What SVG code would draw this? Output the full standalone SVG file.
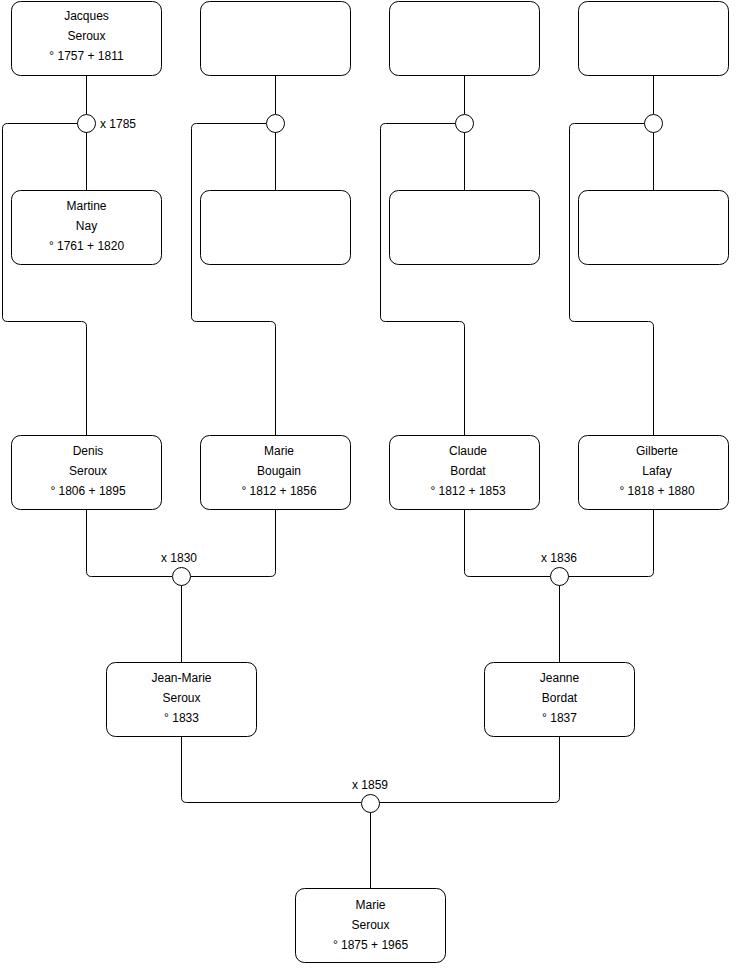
<svg xmlns="http://www.w3.org/2000/svg" width="740" height="975" viewBox="0 0 740 975">
<style>
.box{fill:#fff;stroke:#000;stroke-width:1}
.c{fill:#fff;stroke:#000;stroke-width:1}
.ln{fill:none;stroke:#000;stroke-width:1}
text{font-family:"Liberation Sans",Arial,sans-serif;font-size:12px;fill:#000}
.m{text-anchor:middle}
</style>
<rect width="740" height="975" fill="#fff"/>
<g id="connectors">
<path class="ln" d="M86.5 75V114M86.5 132V190"/>
<path class="ln" d="M275.5 75V114M275.5 132V190"/>
<path class="ln" d="M464.5 75V114M464.5 132V190"/>
<path class="ln" d="M653.5 75V114M653.5 132V190"/>
<path class="ln" d="M77.5 123.5H7.5Q2.5 123.5 2.5 128.5V316.5Q2.5 321.5 7.5 321.5H81.5Q86.5 321.5 86.5 326.5V435"/>
<path class="ln" d="M266.5 123.5H196.5Q191.5 123.5 191.5 128.5V316.5Q191.5 321.5 196.5 321.5H270.5Q275.5 321.5 275.5 326.5V435"/>
<path class="ln" d="M455.5 123.5H385.5Q380.5 123.5 380.5 128.5V316.5Q380.5 321.5 385.5 321.5H459.5Q464.5 321.5 464.5 326.5V435"/>
<path class="ln" d="M644.5 123.5H574.5Q569.5 123.5 569.5 128.5V316.5Q569.5 321.5 574.5 321.5H648.5Q653.5 321.5 653.5 326.5V435"/>
<path class="ln" d="M86.5 510V571.5Q86.5 576.5 91.5 576.5H172"/>
<path class="ln" d="M275.5 510V571.5Q275.5 576.5 270.5 576.5H190"/>
<path class="ln" d="M181.5 585V662"/>
<path class="ln" d="M464.5 510V571.5Q464.5 576.5 469.5 576.5H550"/>
<path class="ln" d="M653.5 510V571.5Q653.5 576.5 648.5 576.5H568"/>
<path class="ln" d="M559.5 585V662"/>
<path class="ln" d="M181.5 737V797.5Q181.5 802.5 186.5 802.5H361"/>
<path class="ln" d="M559.5 737V797.5Q559.5 802.5 554.5 802.5H379"/>
<path class="ln" d="M370.5 812V888"/>
</g>
<g id="union1"><circle class="c" cx="86.5" cy="123.5" r="9"/><text x="100" y="128">x 1785</text></g>
<g id="union2"><circle class="c" cx="275.5" cy="123.5" r="9"/></g>
<g id="union3"><circle class="c" cx="464.5" cy="123.5" r="9"/></g>
<g id="union4"><circle class="c" cx="653.5" cy="123.5" r="9"/></g>
<g id="union5"><circle class="c" cx="181.5" cy="576.5" r="9"/><text class="m" x="179" y="562">x 1830</text></g>
<g id="union6"><circle class="c" cx="559.5" cy="576.5" r="9"/><text class="m" x="559" y="562">x 1836</text></g>
<g id="union7"><circle class="c" cx="370.5" cy="803.5" r="9"/><text class="m" x="370" y="789">x 1859</text></g>
<g id="jacques"><rect class="box" x="11.5" y="1.5" width="150" height="74" rx="9"/><text class="m" x="86.5" y="20">Jacques</text><text class="m" x="86.5" y="40">Seroux</text><text class="m" x="86.5" y="60">° 1757 + 1811</text></g>
<g id="p2"><rect class="box" x="200.5" y="1.5" width="150" height="74" rx="9"/></g>
<g id="p3"><rect class="box" x="389.5" y="1.5" width="150" height="74" rx="9"/></g>
<g id="p4"><rect class="box" x="578.5" y="1.5" width="150" height="74" rx="9"/></g>
<g id="martine"><rect class="box" x="11.5" y="190.5" width="150" height="74" rx="9"/><text class="m" x="86.5" y="210">Martine</text><text class="m" x="86.5" y="230">Nay</text><text class="m" x="86.5" y="250">° 1761 + 1820</text></g>
<g id="p6"><rect class="box" x="200.5" y="190.5" width="150" height="74" rx="9"/></g>
<g id="p7"><rect class="box" x="389.5" y="190.5" width="150" height="74" rx="9"/></g>
<g id="p8"><rect class="box" x="578.5" y="190.5" width="150" height="74" rx="9"/></g>
<g id="denis"><rect class="box" x="11.5" y="435.5" width="150" height="74" rx="9"/><text class="m" x="88" y="455">Denis</text><text class="m" x="88" y="475">Seroux</text><text class="m" x="88" y="495">° 1806 + 1895</text></g>
<g id="marie_b"><rect class="box" x="200.5" y="435.5" width="150" height="74" rx="9"/><text class="m" x="279" y="455">Marie</text><text class="m" x="279" y="475">Bougain</text><text class="m" x="279" y="495">° 1812 + 1856</text></g>
<g id="claude"><rect class="box" x="389.5" y="435.5" width="150" height="74" rx="9"/><text class="m" x="468" y="455">Claude</text><text class="m" x="468" y="475">Bordat</text><text class="m" x="468" y="495">° 1812 + 1853</text></g>
<g id="gilberte"><rect class="box" x="578.5" y="435.5" width="150" height="74" rx="9"/><text class="m" x="657" y="455">Gilberte</text><text class="m" x="657" y="475">Lafay</text><text class="m" x="657" y="495">° 1818 + 1880</text></g>
<g id="jeanmarie"><rect class="box" x="106.5" y="662.5" width="150" height="74" rx="9"/><text class="m" x="181.5" y="682">Jean-Marie</text><text class="m" x="181.5" y="702">Seroux</text><text class="m" x="181.5" y="722">° 1833</text></g>
<g id="jeanne"><rect class="box" x="484.5" y="662.5" width="150" height="74" rx="9"/><text class="m" x="559.5" y="682">Jeanne</text><text class="m" x="559.5" y="702">Bordat</text><text class="m" x="559.5" y="722">° 1837</text></g>
<g id="marie_s"><rect class="box" x="295.5" y="888.5" width="150" height="74" rx="9"/><text class="m" x="370.5" y="909">Marie</text><text class="m" x="370.5" y="929">Seroux</text><text class="m" x="370.5" y="949">° 1875 + 1965</text></g>
</svg>
